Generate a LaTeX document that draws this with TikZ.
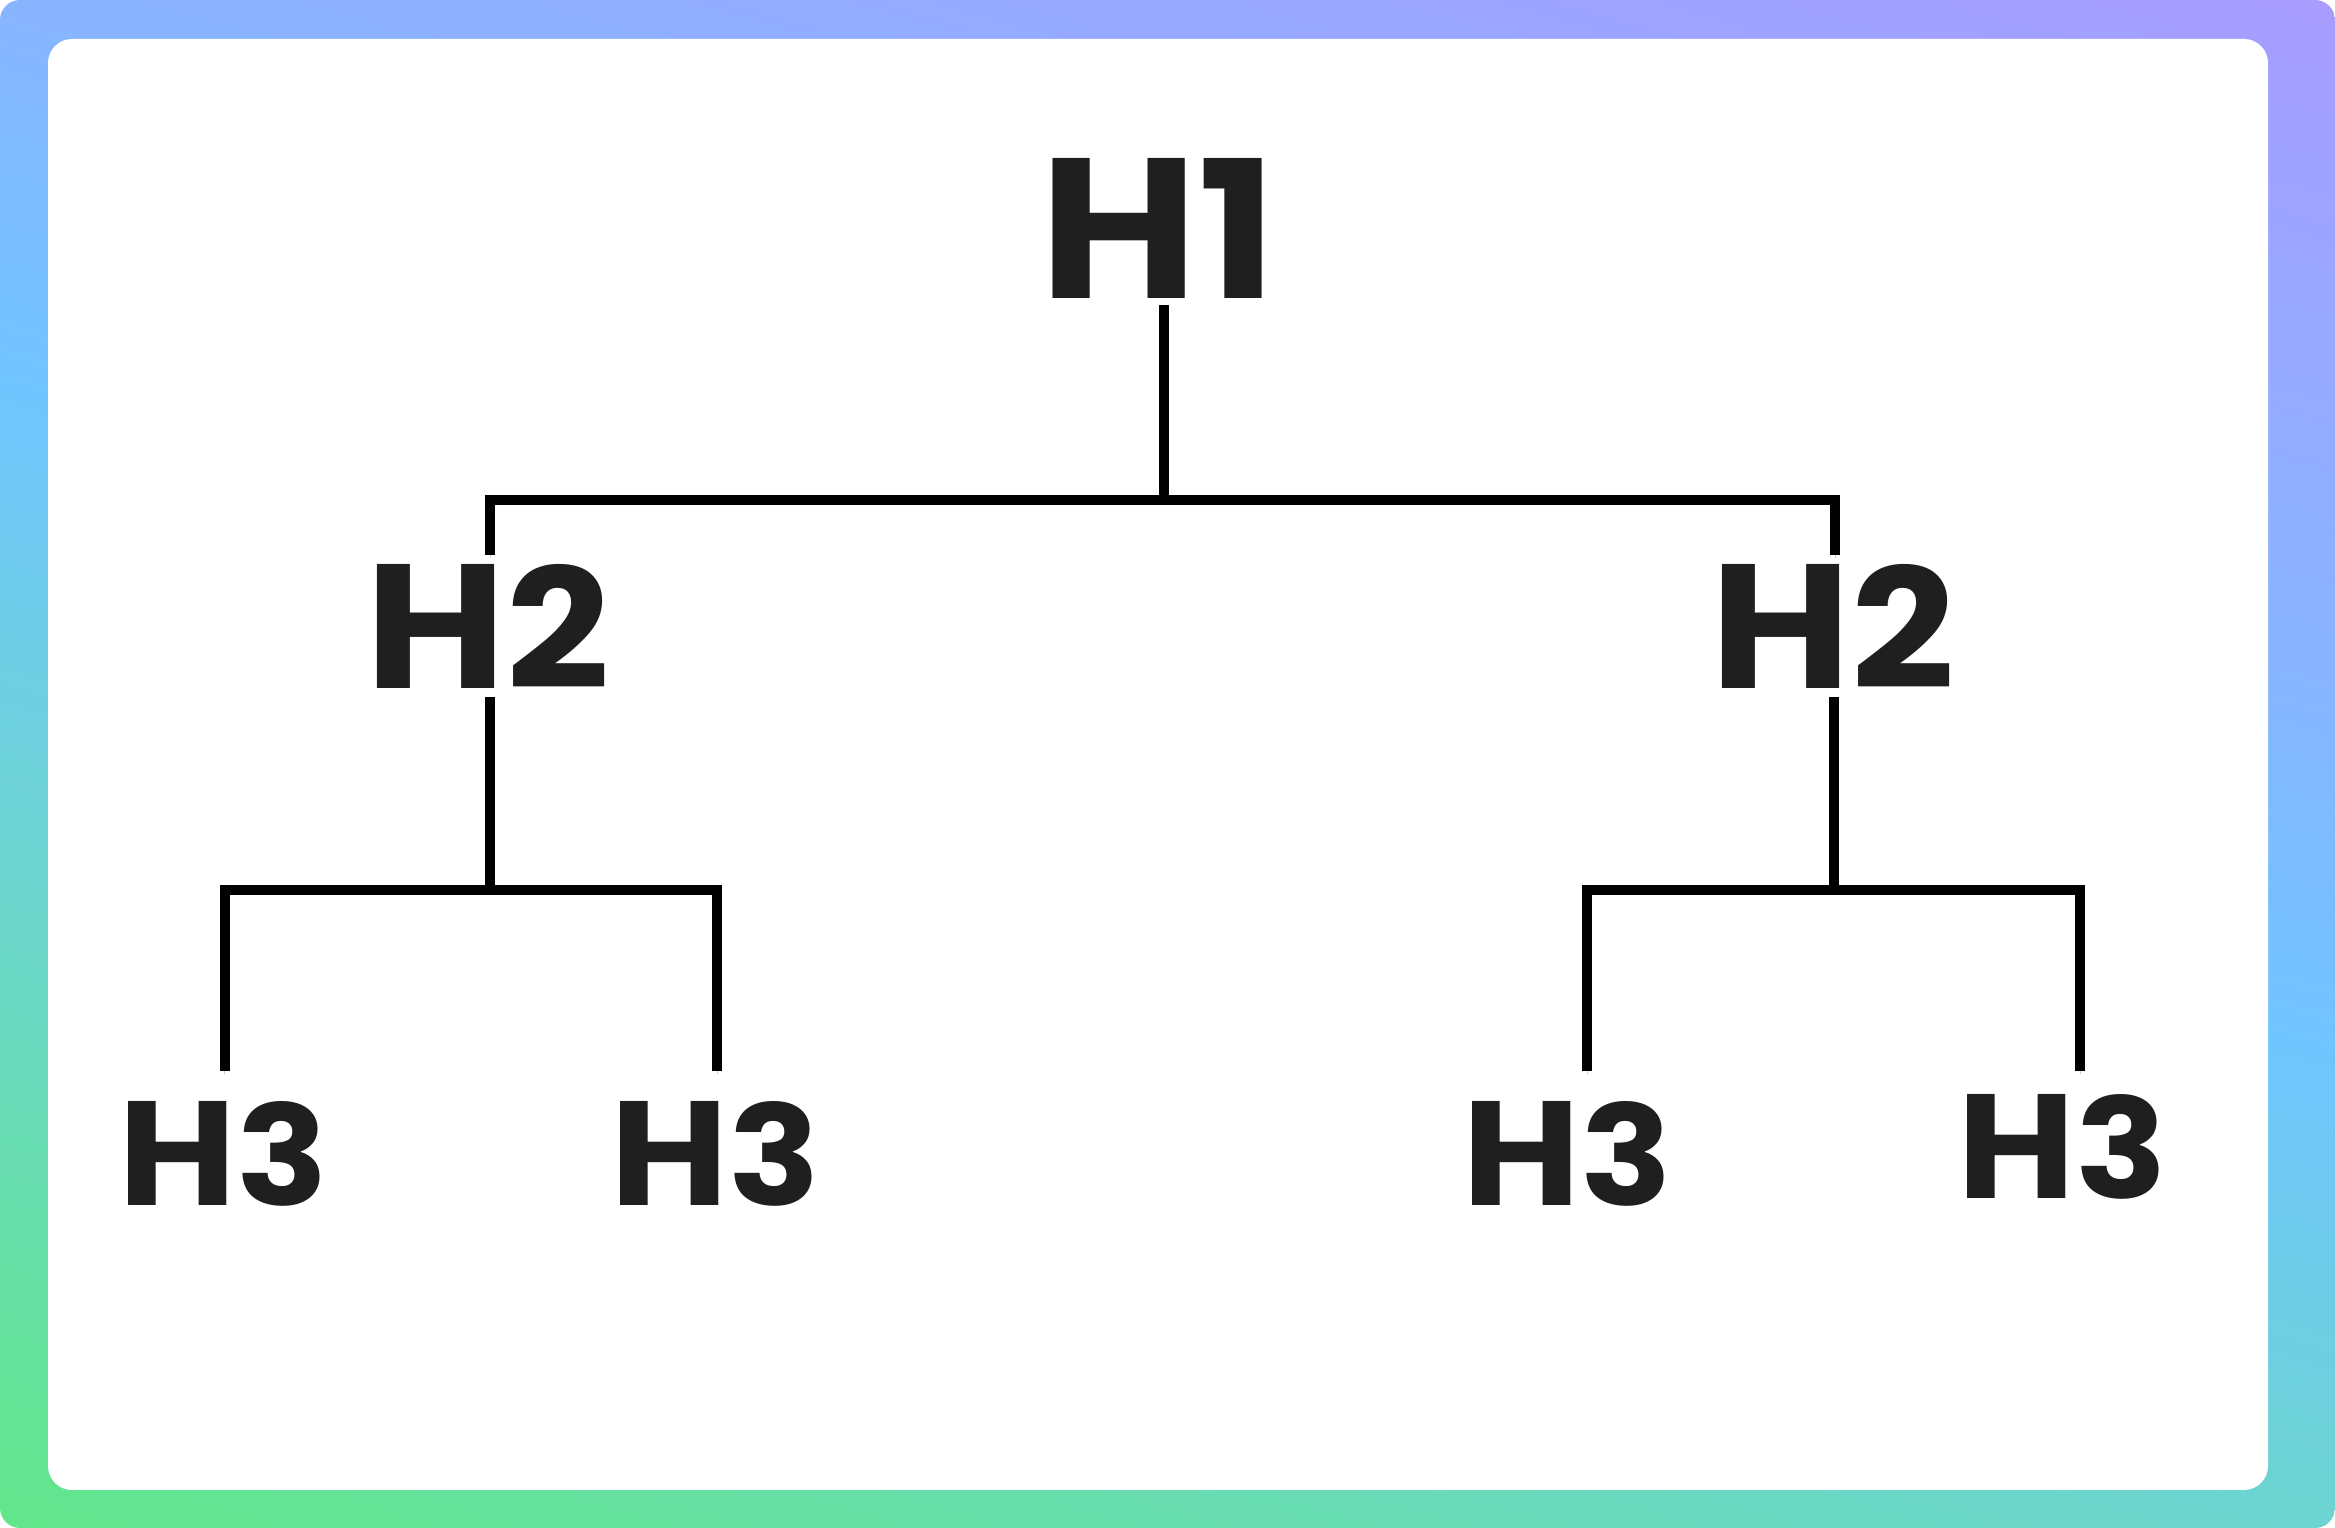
\documentclass[tikz,border=0pt]{standalone}
\usepackage{fontspec}
\setmainfont{Poppins}
\usepackage{graphicx}
\definecolor{txt}{HTML}{1F1F1F}
\definecolor{gA}{HTML}{62E68A}
\definecolor{gB}{HTML}{6CD4D0}
\definecolor{gC}{HTML}{70C4FF}
\definecolor{gD}{HTML}{88B4FF}
\definecolor{gE}{HTML}{A89CFF}
\newcommand\gradseg[4]{%
  \foreach \k in {0,...,29}{%
    \pgfmathsetmacro\pa{#1+(#2-#1)/30*\k}%
    \pgfmathsetmacro\pb{#1+(#2-#1)/30*(\k+1)+0.8}%
    \pgfmathsetmacro\pc{100-(\k+0.5)*10/3}%
    \fill[#3!\pc!#4] (\pa,-2400) rectangle (\pb,700);
  }%
}
\newcommand\lab[2]{\scalebox{1.09}[1]{\resizebox{!}{#1}{H}\resizebox{!}{#1}{#2}}}
\begin{document}
\begin{tikzpicture}[x=1pt,y=1pt,
  lbl/.style={inner sep=0pt, text=txt, font=\bfseries},
  conn/.style={line width=10pt, draw=black,
    preaction={draw=black!20, transform canvas={yshift=-3pt}}}]
\useasboundingbox (0,0) rectangle (2335,1528);
\fill[white] (0,0) rectangle (2335,1528);
% gradient frame
\begin{scope}
  \clip[rounded corners=20pt] (0,0) rectangle (2335,1528);
  \begin{scope}[rotate=74]
    \fill[gA] (-200,-2400) rectangle (0.5,700);
    \gradseg{0}{644}{gA}{gB}
    \gradseg{644}{1102}{gB}{gC}
    \gradseg{1102}{1469}{gC}{gD}
    \gradseg{1469}{2113}{gD}{gE}
    \fill[gE] (2113,-2400) rectangle (2400,700);
  \end{scope}
\end{scope}
\fill[white, rounded corners=24pt] (48,38) rectangle (2268,1489);
% labels
\node[lbl] (h1) at (1158,1300) {\lab{140pt}{1}};
\node[lbl] (h2a) at (487.5,902) {\lab{124pt}{2}};
\node[lbl] (h2b) at (1832.5,902) {\lab{124pt}{2}};
\node[lbl] (h3a) at (223,374) {\lab{104pt}{3}};
\node[lbl] (h3b) at (715.5,374) {\lab{104pt}{3}};
\node[lbl] (h3c) at (1567,374) {\lab{104pt}{3}};
\node[lbl] (h3d) at (2062,381) {\lab{104pt}{3}};
% junctions
\coordinate (j1) at (1164,1028);
\coordinate (j2) at (490,638);
\coordinate (j3) at (1834,638);
% connectors
\draw[conn] ([xshift=6pt,yshift=-7pt]h1.south) -- (j1);
\draw[conn] ([xshift=2.5pt,yshift=9pt]h2a.north) |- (j1) -| ([xshift=2.5pt,yshift=9pt]h2b.north);
\draw[conn] ([xshift=2.5pt,yshift=-9pt]h2a.south) -- (j2);
\draw[conn] ([xshift=1.5pt,yshift=30pt]h3a.north) |- (j2) -| ([xshift=1.5pt,yshift=30pt]h3b.north);
\draw[conn] ([xshift=1.5pt,yshift=-9pt]h2b.south) -- (j3);
\draw[conn] ([xshift=20pt,yshift=30pt]h3c.north) |- (j3) -| ([xshift=18pt,yshift=23pt]h3d.north);
\end{tikzpicture}
\end{document}
